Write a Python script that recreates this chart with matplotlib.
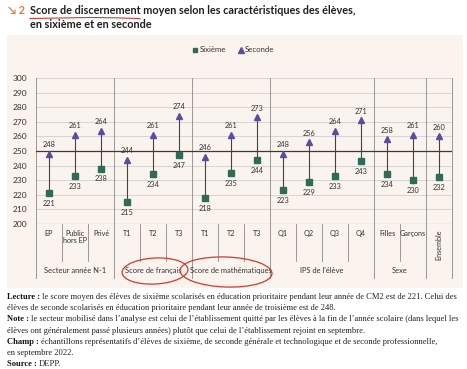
import matplotlib
matplotlib.use("Agg")
import matplotlib.pyplot as plt
from matplotlib.patches import Rectangle, Ellipse
import numpy as np

W, H = 467, 369

categories = ["EP", "Public\nhors EP", "Privé", "T1", "T2", "T3", "T1", "T2", "T3",
              "Q1", "Q2", "Q3", "Q4", "Filles", "Garçons", "Ensemble"]
sixieme = [221, 233, 238, 215, 234, 247, 218, 235, 244, 223, 229, 233, 243, 234, 230, 232]
seconde = [248, 261, 264, 244, 261, 274, 246, 261, 273, 248, 256, 264, 271, 258, 261, 260]
groups = ["Secteur année N-1", "Score de français", "Score de mathématiques",
          "IPS de l'élève", "Sexe"]
group_bounds = [0, 3, 6, 9, 13, 15]

GREEN = "#2f6b58"
PURPLE = "#5b4c9f"
BG = "#fbf3ee"
TXT = "#333333"

fig = plt.figure(figsize=(W / 100, H / 100), dpi=100)

# background layer in pixel coordinates
bg = fig.add_axes([0, 0, 1, 1], zorder=0)
bg.set_xlim(0, W)
bg.set_ylim(H, 0)
bg.axis("off")
bg.add_patch(Rectangle((7, 35), 456, 253, color=BG, lw=0))

bg.text(8, 10, "↘ 2", color="#e07b39", fontsize=7.8, fontweight="bold",
        family=["Lato", "DejaVu Sans"], va="center")
bg.text(30, 10, "Score de discernement moyen selon les caractéristiques des élèves,",
        color="#1f1f1f", fontsize=7.8, fontweight="bold", family="Lato", va="center")
bg.text(30, 24, "en sixième et en seconde", color="#1f1f1f", fontsize=7.8,
        fontweight="bold", family="Lato", va="center")

# legend
bg.plot([195], [50], "s", color=GREEN, ms=3.5)
bg.text(200, 50, "Sixième", fontsize=5.6, family="Lato", color=TXT, va="center")
bg.plot([241], [50], "^", color=PURPLE, ms=4)
bg.text(245, 50, "Seconde", fontsize=5.6, family="Lato", color=TXT, va="center")

# footnotes
notes = [
    ("Lecture : ", "le score moyen des élèves de sixième scolarisés en éducation prioritaire pendant leur année de CM2 est de 221. Celui des"),
    ("", "élèves de seconde scolarisés en éducation prioritaire pendant leur année de troisième est de 248."),
    ("Note : ", "le secteur mobilisé dans l’analyse est celui de l’établissement quitté par les élèves à la fin de l’année scolaire (dans lequel les"),
    ("", "élèves ont généralement passé plusieurs années) plutôt que celui de l’établissement rejoint en septembre."),
    ("Champ : ", "échantillons représentatifs d’élèves de sixième, de seconde générale et technologique et de seconde professionnelle,"),
    ("", "en septembre 2022."),
    ("Source : ", "DEPP."),
]
renderer = fig.canvas.get_renderer()
y = 297
for head, rest in notes:
    x = 7
    if head:
        t = bg.text(x, y, head, fontsize=6.15, fontweight="bold", family="Liberation Serif",
                    color="#111111", va="center")
        ext = t.get_window_extent(renderer)
        x += ext.width
    bg.text(x, y, rest, fontsize=6.15, family="Liberation Serif", color="#222222", va="center")
    y += 11.2

# main chart
ax = fig.add_axes([36 / W, 1 - 224 / H, 416 / W, 146 / H], zorder=1)
ax.set_facecolor("none")
xs = np.arange(len(categories)) + 0.5
ax.set_xlim(0, len(categories))
ax.set_ylim(200, 300)
ax.set_yticks(range(200, 301, 10))
for yy in range(210, 301, 10):
    ax.axhline(yy, color="#cfcfcf", lw=0.6, zorder=1)
ax.axhline(250, color="#3a3a3a", lw=0.9, zorder=2)
for s in ax.spines.values():
    s.set_visible(False)
ax.axhline(200, color="#555555", lw=0.8, zorder=2)
ax.tick_params(axis="y", length=0, labelsize=6, labelcolor=TXT, pad=6)
ax.tick_params(axis="x", length=0, labelbottom=False)
for lab in ax.get_yticklabels():
    lab.set_family("Lato")

for b in group_bounds + [len(categories)]:
    ax.plot([b, b], [1, -0.37], transform=ax.get_xaxis_transform(), color="#8a8a8a",
            lw=0.6, clip_on=False, zorder=1)

for i, (x, a, b) in enumerate(zip(xs, sixieme, seconde)):
    ax.plot([x, x], [a, b], color="#444444", lw=0.8, zorder=3)
    ax.plot(x, a, "s", color=GREEN, ms=4, zorder=4)
    ax.plot(x, b, "^", color=PURPLE, ms=4.5, zorder=4)
    ax.annotate(str(a), (x, a), xytext=(0, -5), textcoords="offset points",
                ha="center", va="top", fontsize=5.3, color=TXT, family="Lato")
    ax.annotate(str(b), (x, b), xytext=(0, 4), textcoords="offset points",
                ha="center", va="bottom", fontsize=5.3, color=TXT, family="Lato")

xt = ax.get_xaxis_transform()
for i, (x, c) in enumerate(zip(xs, categories)):
    if c == "Ensemble":
        ax.text(x, -0.145, c, transform=xt, rotation=90, ha="center", va="center",
                fontsize=5.2, color=TXT, family="Lato")
    else:
        ax.text(x, -0.04, c, transform=xt, ha="center", va="top", fontsize=5.2,
                color=TXT, family="Lato", linespacing=1.1)

inner = [i for i in range(1, len(categories)) if i not in group_bounds]
for b in inner:
    ax.plot([b, b], [0, -0.25], transform=xt, color="#8a8a8a", lw=0.6,
            clip_on=False, zorder=1)

for g, lo, hi in zip(groups, group_bounds[:-1], group_bounds[1:]):
    ax.text((lo + hi) / 2, -0.32, g, transform=xt, ha="center", va="center",
            fontsize=5.4, color=TXT, family="Lato")

# red hand-drawn marks
top = fig.add_axes([0, 0, 1, 1], zorder=3)
top.set_xlim(0, W)
top.set_ylim(H, 0)
top.axis("off")
top.set_facecolor("none")
ux = np.array([30, 60, 90, 115, 140])
uy = np.array([18.5, 18, 17.5, 17.8, 18.6])
top.plot(ux, uy, color="#d23a2e", lw=0.8)
top.add_patch(Ellipse((155, 271), 66, 26, angle=-3, fill=False, ec="#d23a2e", lw=0.9))
top.add_patch(Ellipse((226, 272), 92, 30, angle=2, fill=False, ec="#d23a2e", lw=0.9))

fig.savefig("out.png", dpi=100)
